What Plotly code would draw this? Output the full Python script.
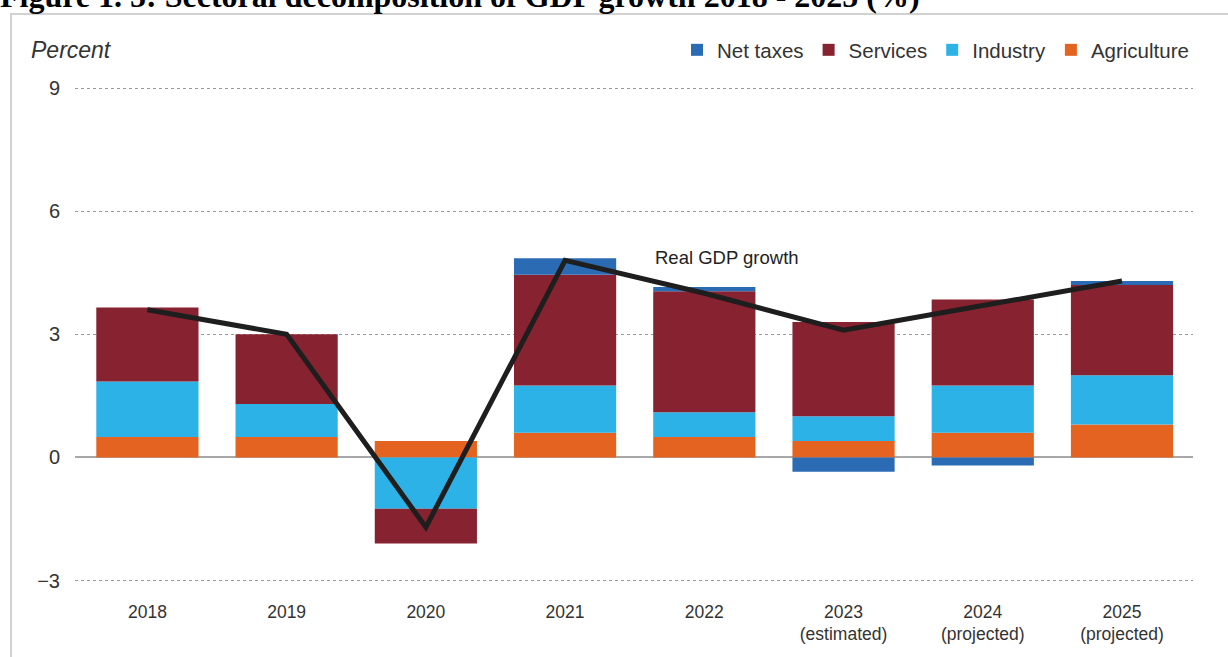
import plotly.graph_objects as go

years = ["2018", "2019", "2020", "2021", "2022", "2023<br>(estimated)", "2024<br>(projected)", "2025<br>(projected)"]
agriculture = [0.5, 0.5, 0.4, 0.6, 0.5, 0.4, 0.6, 0.8]
industry = [1.35, 0.8, -1.25, 1.15, 0.6, 0.6, 1.15, 1.2]
services = [1.8, 1.7, -0.85, 2.7, 2.95, 2.3, 2.1, 2.2]
net_taxes = [0.0, 0.0, 0.0, 0.4, 0.1, -0.35, -0.2, 0.1]
gdp_growth = [3.6, 3.0, -1.7, 4.8, 4.0, 3.1, 3.7, 4.3]
y_ticks = [-3, 0, 3, 6, 9]

colors = {"Agriculture": "#e46321", "Industry": "#2cb2e6", "Services": "#872331", "Net taxes": "#2b6bb3"}

W, H = 1228, 657
ML, MR, MT, MB = 75, 35, 86, 58
PW, PH = W - ML - MR, H - MT - MB

def px_x(p):
    return (p - ML) / PW

def px_y(p):
    return (H - MB - p) / PH

sans = "Liberation Sans, Arial, Helvetica, sans-serif"

fig = go.Figure()
for name, vals in [("Agriculture", agriculture), ("Industry", industry),
                   ("Services", services), ("Net taxes", net_taxes)]:
    fig.add_trace(go.Bar(x=years, y=vals, name=name, marker_color=colors[name],
                         marker_line_width=0))
fig.add_trace(go.Scatter(x=years, y=gdp_growth, mode="lines", showlegend=False,
                         line=dict(color="#1e1e1e", width=5)))

fig.update_layout(
    width=W, height=H,
    margin=dict(l=ML, r=MR, t=MT, b=MB, autoexpand=False),
    paper_bgcolor="white", plot_bgcolor="white",
    barmode="relative", bargap=0.266,
    font=dict(family=sans, size=18, color="#333333"),
    legend=dict(orientation="h", traceorder="reversed", x=px_x(1194), xanchor="right",
                y=px_y(50), yanchor="middle", font=dict(family=sans, size=20.5, color="#333333"),
                itemclick=False, bgcolor="rgba(0,0,0,0)"),
    xaxis=dict(showgrid=False, showline=False, ticks="", tickfont=dict(family=sans, size=17.5, color="#333333"),
               range=[-0.52, 7.51]),
    yaxis=dict(range=[-3.45, 9.05], tickvals=y_ticks, showline=False, ticks="",
               gridcolor="#9a9a9a", griddash="3px,3px", gridwidth=1,
               zeroline=True, zerolinecolor="#a8a8a8", zerolinewidth=1.5,
               ticklabelstandoff=14, tickfont=dict(family=sans, size=20, color="#333333")),
    shapes=[dict(type="rect", xref="paper", yref="paper",
                 x0=px_x(11), x1=px_x(1260), y0=px_y(14), y1=px_y(720),
                 line=dict(color="#d2d2d2", width=2), fillcolor="rgba(0,0,0,0)", layer="below")],
    annotations=[
        dict(text="<b>Figure 1. 5: Sectoral decomposition of GDP growth 2018 - 2025 (%)</b>",
             xref="paper", yref="paper", x=px_x(-2), y=px_y(-4), xanchor="left", yanchor="middle",
             showarrow=False, font=dict(family="Liberation Serif, Times New Roman, serif", size=32, color="black")),
        dict(text="<i>Percent</i>", xref="paper", yref="paper", x=px_x(29), y=px_y(50),
             xanchor="left", yanchor="middle", showarrow=False,
             font=dict(family=sans, size=23, color="#333333")),
        dict(text="Real GDP growth", xref="x", yref="y", x=3.63, y=4.86, xanchor="left", yanchor="middle",
             showarrow=False, font=dict(family=sans, size=18.5, color="#222222")),
    ],
)

fig.write_html("out.html", config={"displayModeBar": False},
               post_script="document.body.style.margin='0';document.body.style.padding='0';")
